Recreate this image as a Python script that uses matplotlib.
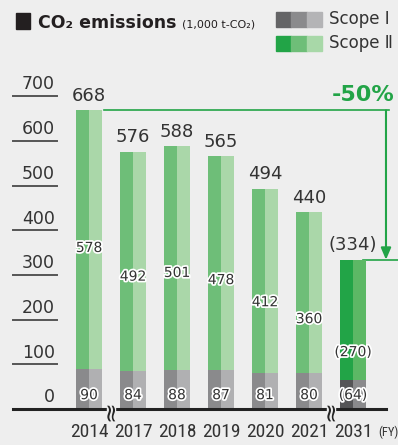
import matplotlib.pyplot as plt
import matplotlib.patheffects as pe
from matplotlib.patches import Rectangle
from matplotlib import font_manager as fm

years = ["2014", "2017", "2018", "2019", "2020", "2021", "2031"]
scope1 = [90, 84, 88, 87, 81, 80, 64]
scope2 = [578, 492, 501, 478, 412, 360, 270]
totals = [668, 576, 588, 565, 494, 440, 334]
yticks = [0, 100, 200, 300, 400, 500, 600, 700]

BG = "#eeeeee"
TXT = "#333333"
G1 = ("#8a8a8c", "#b0b0b2")   # scope I, actual
G2 = ("#6ebe78", "#aad7a9")   # scope II, actual
T1 = ("#555557", "#8a8a8c")   # scope I, target
T2 = ("#22a447", "#5cb865")   # scope II, target
GREEN = "#22a447"

names = {f.name for f in fm.fontManager.ttflist}
narrow = None
for cand in ("Liberation Sans Narrow", "DejaVu Sans Condensed", "Roboto Condensed", "Open Sans Condensed"):
    if cand in names:
        narrow = cand
        break
cond_kw = dict(family=narrow) if narrow else dict(family="DejaVu Sans", fontstretch="condensed")

fig = plt.figure(figsize=(3.98, 4.45), dpi=100)
fig.patch.set_facecolor(BG)
ax = fig.add_axes([0, 0, 1, 1])
ax.set_facecolor(BG)
ax.set_xlim(-2.023, 7.023)
ax.set_ylim(-80.5, 915)
ax.axis("off")

x = list(range(len(years)))
hw = 0.285
stroke = [pe.withStroke(linewidth=2.5, foreground="white")]

for i in x:
    tgt = i == len(years) - 1
    c1, c2 = (T1, T2) if tgt else (G1, G2)
    ax.bar(i - hw / 2, scope1[i], width=hw, color=c1[0], zorder=2)
    ax.bar(i + hw / 2, scope1[i], width=hw, color=c1[1], zorder=2)
    ax.bar(i - hw / 2, scope2[i], width=hw, bottom=scope1[i], color=c2[0], zorder=2)
    ax.bar(i + hw / 2, scope2[i], width=hw, bottom=scope1[i], color=c2[1], zorder=2)
    fmt = (lambda v: f"({v})") if tgt else (lambda v: f"{v}")
    ax.text(i, totals[i] + 12, fmt(totals[i]), ha="center", va="bottom",
            fontsize=13, color=TXT, zorder=4)
    ax.text(i, 0.698 * totals[i] - 106, fmt(scope2[i]), ha="center", va="center",
            fontsize=10, color=TXT, path_effects=stroke, zorder=4)
    ax.text(i, 31, fmt(scope1[i]), ha="center", va="center",
            fontsize=10, color=TXT, path_effects=stroke, zorder=4)
    ax.text(i, -51, years[i], ha="center", va="center", fontsize=14,
            color=TXT, **cond_kw)

ax.text(6.8, -51, "(FY)", ha="center", va="center", fontsize=9,
        color=TXT, **cond_kw)

# y axis labels with short underlines
for v in yticks:
    if v > 0:
        ax.plot([-1.73, -0.73], [v, v], color="#555555", lw=1.4, zorder=1)
    ax.text(-0.78, v + 6, str(v), ha="right", va="bottom", fontsize=12.5, color=TXT)

# baseline with break marks
ax.plot([-1.73, 6.75], [0, 0], color="#222222", lw=2.2, zorder=3)
for bx in (0.5, 5.5):
    ax.add_patch(Rectangle((bx - 0.08, -8), 0.16, 16, color=BG, zorder=3.5))
    ax.text(bx, -3, "≈", rotation=90, ha="center", va="center", fontsize=18,
            color="#222222", zorder=4)

# -50% annotation
ax.plot([0.34, 6.82], [totals[0], totals[0]], color=GREEN, lw=1.2, zorder=1)
ax.plot([6.23, 7.02], [totals[-1], totals[-1]], color=GREEN, lw=1.2, zorder=1)
ax.annotate("", xy=(6.75, totals[-1]), xytext=(6.75, totals[0]),
            arrowprops=dict(arrowstyle="-|>,head_width=0.3,head_length=0.7",
                            color=GREEN, lw=1.5, shrinkA=0, shrinkB=0))
ax.text(6.95, totals[0] + 12, "-50%", ha="right", va="bottom", fontsize=16,
        fontweight="bold", color=GREEN)

# title
fig.patches.append(Rectangle((16 / 398, (445 - 29) / 445), 14 / 398, 16 / 445,
                             color="#231f20", transform=fig.transFigure))
fig.text(0.095, 0.948, "CO₂ emissions", fontsize=12.5, fontweight="bold",
         color="#231f20", va="center")
fig.text(0.458, 0.944, "(1,000 t-CO₂)", fontsize=8, color="#231f20", va="center")

# legend
for row, cols, label in ((0, ("#646466", "#8a8a8c", "#b4b4b6"), "Scope Ⅰ"),
                         (1, (GREEN, "#6ebe78", "#a8d8a8"), "Scope Ⅱ")):
    y0 = 445 - 27 - row * 24
    for k, c in enumerate(cols):
        fig.patches.append(Rectangle(((276 + k * 15.3) / 398, y0 / 445), 15.3 / 398,
                                     15 / 445, color=c, transform=fig.transFigure))
    fig.text(329 / 398, (y0 + 7.5) / 445, label, fontsize=12, color=TXT, va="center")

fig.savefig("out.png", dpi=100, facecolor=BG)
